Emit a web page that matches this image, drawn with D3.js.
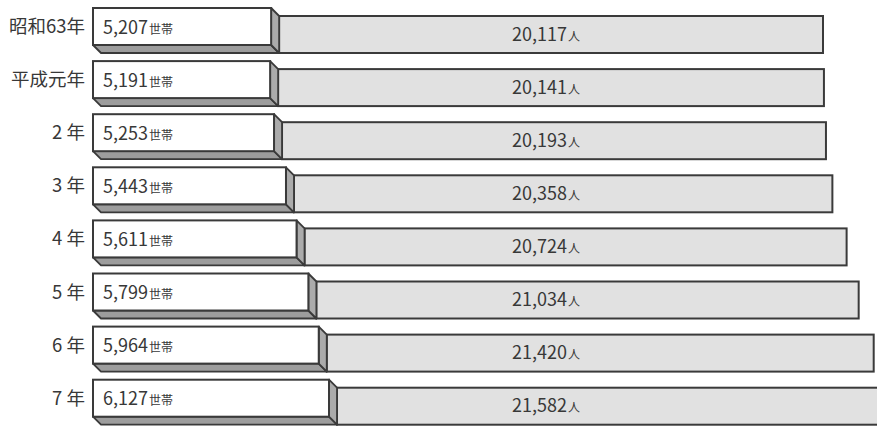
<!DOCTYPE html>
<html>
<head>
<meta charset="utf-8">
<script src="https://cdn.jsdelivr.net/npm/d3@7"></script>
<style>
  html, body { margin: 0; padding: 0; background: #fff; }
  svg { display: block; }
  text { font-family: 'Noto Sans CJK JP', 'Noto Sans', sans-serif; fill: #383838; }
</style>
</head>
<body>
<svg id="chart" width="877" height="427"></svg>
<script>
// 世帯数と人口の推移
const years      = ['昭和63年', '平成元年', '2 年', '3 年', '4 年', '5 年', '6 年', '7 年'];
const households = [5207, 5191, 5253, 5443, 5611, 5799, 5964, 6127];
const population = [20117, 20141, 20193, 20358, 20724, 21034, 21420, 21582];

const rows = years.map((y, i) => ({ year: y, hh: households[i], pop: population[i] }));

const BOX_H = 37;   // front face height
const D = 8;        // extrusion depth (down-right)
const X0 = 93;      // left edge of household boxes

const svg = d3.select('#chart');

// row position
const y = d3.scaleBand().domain(years).range([8, 8 + 8 * 53.1]).paddingInner(0);

// household box right edge (non-zero base, like the original)
const xH = d3.scaleLinear().domain([2375, 6127]).range([X0, 329]);
// population bar right end
const xP = d3.scaleLinear().domain([20117, 21582]).range([823, 880]);

const fmt = d3.format(',');

const g = svg.selectAll('g.row').data(rows).join('g').attr('class', 'row')
  .attr('transform', d => `translate(0,${y(d.year)})`);

// population bar (flat, sits on the back plane)
g.append('rect')
  .attr('x', d => xH(d.hh) + D)
  .attr('y', D)
  .attr('width', d => xP(d.pop) - xH(d.hh) - D)
  .attr('height', BOX_H)
  .attr('fill', '#e1e1e1')
  .attr('stroke', '#3a3a3a')
  .attr('stroke-width', 2);

// bottom face
g.append('path')
  .attr('d', d => {
    const xr = xH(d.hh);
    return `M${X0},${BOX_H} L${xr},${BOX_H} L${xr + D},${BOX_H + D} L${X0 + D},${BOX_H + D} Z`;
  })
  .attr('fill', '#9d9d9d')
  .attr('stroke', '#3a3a3a')
  .attr('stroke-width', 1.8)
  .attr('stroke-linejoin', 'round');

// side face
g.append('path')
  .attr('d', d => {
    const xr = xH(d.hh);
    return `M${xr},0 L${xr + D},${D} L${xr + D},${BOX_H + D} L${xr},${BOX_H} Z`;
  })
  .attr('fill', '#ababab')
  .attr('stroke', '#3a3a3a')
  .attr('stroke-width', 1.8)
  .attr('stroke-linejoin', 'round');

// front face
g.append('rect')
  .attr('x', X0)
  .attr('y', 0)
  .attr('width', d => xH(d.hh) - X0)
  .attr('height', BOX_H)
  .attr('fill', '#fff')
  .attr('stroke', '#3a3a3a')
  .attr('stroke-width', 2);

// year labels
g.append('text')
  .attr('x', 85).attr('y', 25)
  .attr('text-anchor', 'end')
  .attr('font-size', 18.5)
  .text(d => d.year);

// household values
const th = g.append('text').attr('x', 103).attr('y', 25.5);
th.append('tspan').attr('font-size', 18).text(d => fmt(d.hh));
th.append('tspan').attr('font-size', 12).attr('dx', 1).text('世帯');

// population values
const tp = g.append('text').attr('x', 512).attr('y', 32.5);
tp.append('tspan').attr('font-size', 18).text(d => fmt(d.pop));
tp.append('tspan').attr('font-size', 12).attr('dx', 1).text('人');
</script>
</body>
</html>
